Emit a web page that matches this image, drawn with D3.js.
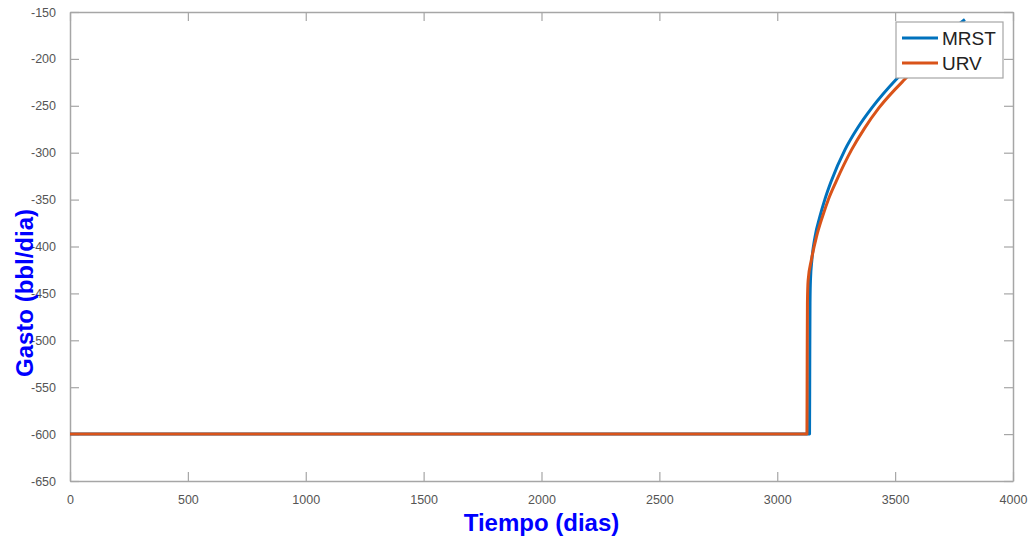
<!DOCTYPE html>
<html>
<head>
<meta charset="utf-8">
<script src="https://cdn.jsdelivr.net/npm/d3@7"></script>
<style>
  html, body { margin: 0; padding: 0; background: #fff; }
  svg { display: block; font-family: "Liberation Sans", Arial, sans-serif; }
</style>
</head>
<body>
<svg id="chart" width="1030" height="539"></svg>
<script>
// Production rate over time, two simulators
const xTicks = [0, 500, 1000, 1500, 2000, 2500, 3000, 3500, 4000];
const yTicks = [-650, -600, -550, -500, -450, -400, -350, -300, -250, -200, -150];

const mrstDays = [0, 3137, 3138, 3139, 3141, 3147, 3160, 3181, 3203, 3228, 3287, 3340, 3402, 3504, 3648, 3796];
const mrstRate = [-600, -600, -520, -460, -435, -414, -390, -368, -349, -331, -297, -274, -252, -222, -188, -158];

const urvDays = [0, 3126, 3127, 3128, 3131, 3145, 3166, 3192, 3218, 3249, 3315, 3370, 3432, 3540, 3688, 3800];
const urvRate = [-600, -600, -520, -460, -436, -414, -390, -368, -349, -331, -297, -274, -252, -222, -188, -166];

const seriesNames = ["MRST", "URV"];
const seriesColors = ["#0072BD", "#D95319"];

const svg = d3.select("#chart");
const margin = { left: 70, right: 17, top: 12, bottom: 58 };
const W = 1030, H = 539;
const x = d3.scaleLinear().domain([0, 4000]).range([margin.left, W - margin.right]);
const y = d3.scaleLinear().domain([-650, -150]).range([H - margin.bottom, margin.top]);

const axisColor = "#a6a6a6";
const labelColor = "#555";
const plain = d => String(d).replace("\u2212", "-");

// Axes box with inward ticks on all four sides
function styleAxis(g) {
  g.select(".domain").attr("stroke", axisColor).attr("stroke-width", 1.5);
  g.selectAll(".tick line").attr("stroke", axisColor).attr("stroke-width", 1.2);
  g.selectAll(".tick text").attr("fill", labelColor).style("font-size", "12.5px");
}

svg.append("g")
  .attr("transform", `translate(0,${y(-650)})`)
  .call(d3.axisBottom(x).tickValues(xTicks).tickSizeInner(-9).tickSizeOuter(0).tickPadding(14).tickFormat(plain))
  .call(styleAxis);

svg.append("g")
  .attr("transform", `translate(0,${y(-150)})`)
  .call(d3.axisTop(x).tickValues(xTicks).tickSizeInner(-9).tickSizeOuter(0).tickFormat(""))
  .call(styleAxis);

svg.append("g")
  .attr("transform", `translate(${x(0)},0)`)
  .call(d3.axisLeft(y).tickValues(yTicks).tickSizeInner(-9).tickSizeOuter(0).tickPadding(14).tickFormat(plain))
  .call(styleAxis);

svg.append("g")
  .attr("transform", `translate(${x(4000)},0)`)
  .call(d3.axisRight(y).tickValues(yTicks).tickSizeInner(-9).tickSizeOuter(0).tickFormat(""))
  .call(styleAxis);

// Series lines
const line = d3.line()
  .x(d => x(d[0]))
  .y(d => y(d[1]))
  .curve(d3.curveMonotoneX);

const series = [
  d3.zip(mrstDays, mrstRate),
  d3.zip(urvDays, urvRate)
];

svg.append("g").selectAll("path")
  .data(series)
  .join("path")
  .attr("d", line)
  .attr("fill", "none")
  .attr("stroke", (d, i) => seriesColors[i])
  .attr("stroke-width", 3)
  .attr("stroke-linejoin", "round");

// Axis titles
svg.append("text")
  .attr("x", (x(0) + x(4000)) / 2)
  .attr("y", 531)
  .attr("text-anchor", "middle")
  .attr("fill", "#0000ff")
  .style("font-size", "24px")
  .style("font-weight", "bold")
  .text("Tiempo (dias)");

svg.append("text")
  .attr("transform", "translate(33,293) rotate(-90)")
  .attr("text-anchor", "middle")
  .attr("fill", "#0000ff")
  .style("font-size", "24px")
  .style("font-weight", "bold")
  .text("Gasto (bbl/dia)");

// Legend
const legend = svg.append("g").attr("transform", "translate(896,22)");
legend.append("rect")
  .attr("width", 107).attr("height", 56)
  .attr("fill", "#fff")
  .attr("stroke", axisColor).attr("stroke-width", 1.2);
seriesNames.forEach((name, i) => {
  const ly = 16 + i * 25;
  legend.append("line")
    .attr("x1", 6).attr("x2", 42).attr("y1", ly).attr("y2", ly)
    .attr("stroke", seriesColors[i]).attr("stroke-width", 3);
  legend.append("text")
    .attr("x", 46).attr("y", ly + 7)
    .attr("fill", "#222")
    .style("font-size", "19px")
    .text(name);
});
</script>
</body>
</html>
